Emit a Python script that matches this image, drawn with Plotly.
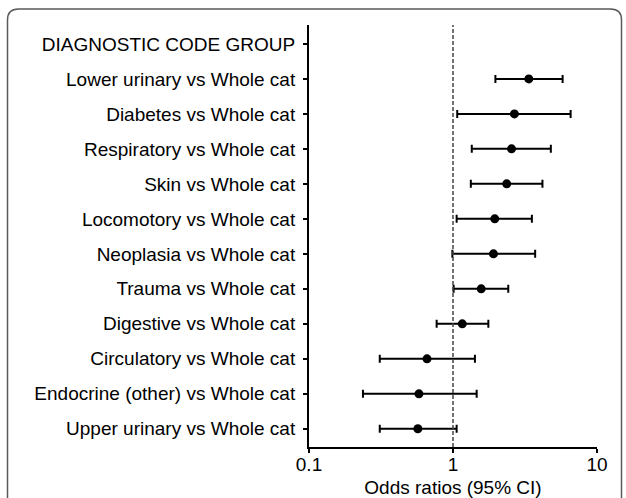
import plotly.graph_objects as go

categories = ["DIAGNOSTIC CODE GROUP", "Lower urinary vs Whole cat", "Diabetes vs Whole cat",
              "Respiratory vs Whole cat", "Skin vs Whole cat", "Locomotory vs Whole cat",
              "Neoplasia vs Whole cat", "Trauma vs Whole cat", "Digestive vs Whole cat",
              "Circulatory vs Whole cat", "Endocrine (other) vs Whole cat", "Upper urinary vs Whole cat"]
odds = [None, 3.36, 2.67, 2.55, 2.36, 1.95, 1.91, 1.57, 1.16, 0.66, 0.58, 0.57]
lower = [None, 1.97, 1.07, 1.35, 1.33, 1.06, 0.99, 1.01, 0.77, 0.31, 0.237, 0.31]
upper = [None, 5.77, 6.56, 4.78, 4.18, 3.53, 3.72, 2.42, 1.76, 1.42, 1.46, 1.06]
x_tickvals = [0.1, 1, 10]
x_ticktext = ["0.1", "1", "10"]

W, H = 626, 498
ML, MR, MT, MB = 309, 29, 25, 51

ypos = list(range(len(categories)))
px, py, ep, em = [], [], [], []
for i, (o, l, u) in enumerate(zip(odds, lower, upper)):
    if o is None:
        continue
    px.append(o); py.append(i); ep.append(u - o); em.append(o - l)

FONT = "Liberation Sans, Arial, sans-serif"
fig = go.Figure()
fig.add_trace(go.Scatter(
    x=px, y=py, mode="markers",
    marker=dict(color="black", size=9, symbol="circle"),
    error_x=dict(type="data", symmetric=False, array=ep, arrayminus=em,
                 color="black", thickness=2, width=4),
    showlegend=False, hoverinfo="skip"))

fig.add_vline(x=1, line=dict(color="#444444", width=1.5, dash="4px,2px"))

# rounded border around the whole figure (paper coords)
pw = W - ML - MR
ph = H - MT - MB
def pxx(x):
    return (x - ML) / pw
def pyy(y):
    return (H - MB - y) / ph
x0, x1, y0, y1, r = 7.5, 621.5, 9, 520, 11
path = (f"M {pxx(x0)},{pyy(y1)} L {pxx(x0)},{pyy(y0 + r)} "
        f"Q {pxx(x0)},{pyy(y0)} {pxx(x0 + r)},{pyy(y0)} "
        f"L {pxx(x1 - r)},{pyy(y0)} Q {pxx(x1)},{pyy(y0)} {pxx(x1)},{pyy(y0 + r)} "
        f"L {pxx(x1)},{pyy(y1)}")
fig.add_shape(type="path", path=path, xref="paper", yref="paper",
              line=dict(color="#5a5a5a", width=1.5), layer="above")

fig.update_layout(
    width=W, height=H,
    margin=dict(l=ML, r=MR, t=MT, b=MB, pad=0),
    paper_bgcolor="white", plot_bgcolor="white",
    font=dict(family=FONT, size=19, color="black"),
    xaxis=dict(type="log", range=[-1, 1], tickvals=x_tickvals, ticktext=x_ticktext,
               showgrid=False, zeroline=False, showline=True, linecolor="black", linewidth=2,
               ticks="outside", ticklen=4, tickwidth=1.5, tickcolor="black",
               automargin=False, ticklabelstandoff=-5,
               title=dict(text="Odds ratios (95% CI)", font=dict(size=19), standoff=9)),
    yaxis=dict(range=[11.52, -0.54], tickvals=ypos, ticktext=categories,
               showgrid=False, zeroline=False, showline=True, linecolor="black", linewidth=2,
               ticks="outside", ticklen=4, tickwidth=1.5, tickcolor="black",
               automargin=False, ticklabelstandoff=4),
)

fig.write_html("out.html", post_script="document.body.style.margin='0';",
               config={"displayModeBar": False})
